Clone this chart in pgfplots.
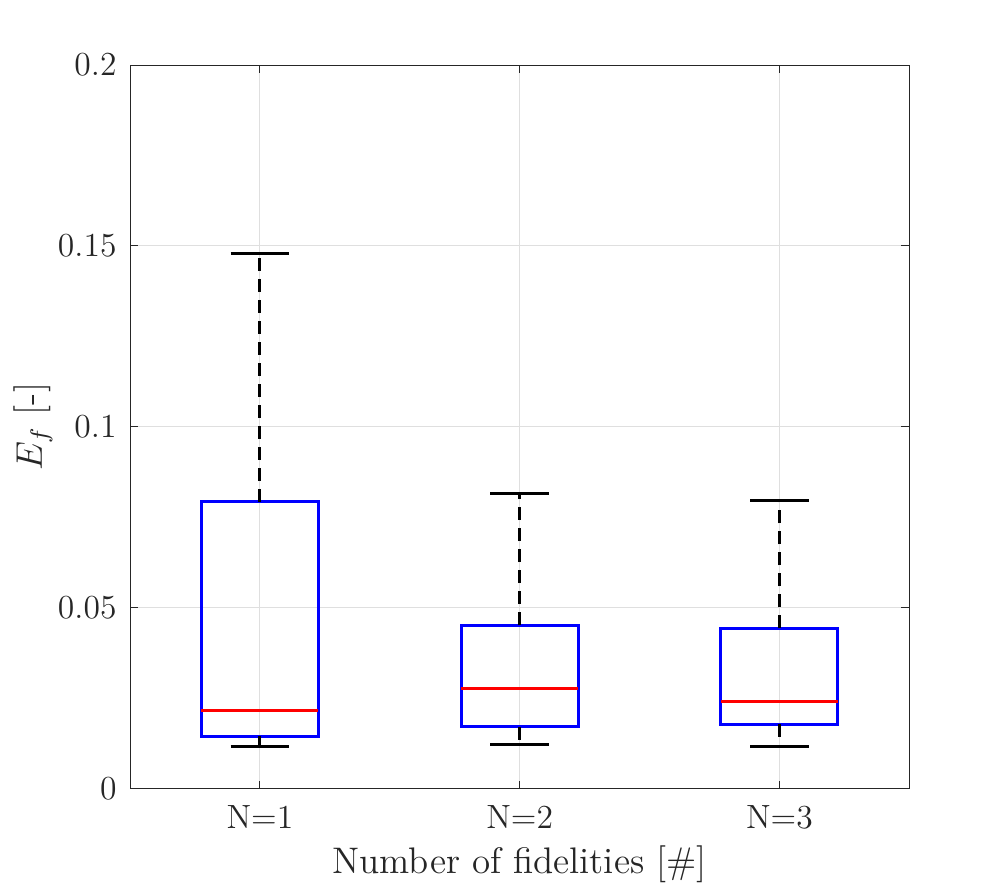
\documentclass[border=0pt]{standalone}
\usepackage{fontspec}
\usepackage{pgfplots}
\pgfplotsset{compat=1.18}
\definecolor{axgray}{HTML}{262626}
\definecolor{gridgray}{HTML}{DFDFDF}
\newcommand\ff{\fontsize{12pt}{14pt}\selectfont}
\begin{document}
\begin{tikzpicture}
\begin{axis}[
  scale only axis,
  width=389.5pt, height=361.75pt,
  xmin=0.5, xmax=3.5, ymin=0, ymax=0.2,
  xtick={1,2,3}, xticklabels={N=1,N=2,N=3},
  ytick={0,0.05,0.1,0.15,0.2},
  yticklabels={0,0.05,0.1,0.15,0.2},
  tick align=inside, tick pos=both,
  major tick length=4pt,
  every tick/.style={axgray, line width=0.5pt},
  axis line style={axgray, line width=0.5pt},
  grid=major,
  major grid style={gridgray, line width=0.5pt},
  xticklabel style={anchor=base, yshift=-19.75pt, inner sep=0pt, font=\ff, text=axgray, scale=1.40},
  yticklabel style={anchor=east, xshift=-6.5pt, inner sep=0pt, font=\ff, text=axgray, scale=1.40},
  xlabel={Number of fidelities [\#]},
  ylabel={$E_f$ [-]},
  xlabel style={at={(axis description cs:0.5,-0.1168)}, anchor=base, inner sep=0pt, font=\ff, text=axgray, scale=1.54},
  ylabel style={at={(axis description cs:-0.113,0.5)}, anchor=base, rotate=0, inner sep=0pt, font=\ff, text=axgray, scale=1.54},
]
% box 1
\addplot[blue, line width=1.5pt] coordinates {(0.775,0.0145) (1.225,0.0145) (1.225,0.0793) (0.775,0.0793)} -- cycle;
\addplot[red, line width=1.5pt] coordinates {(0.775,0.0217) (1.225,0.0217)};
\addplot[black, line width=1.5pt, dash pattern=on 6.5pt off 4pt] coordinates {(1,0.0793) (1,0.1479)};
\addplot[black, line width=1.5pt, dash pattern=on 6.5pt off 4pt] coordinates {(1,0.0145) (1,0.0118)};
\addplot[black, line width=1.5pt] coordinates {(0.8875,0.1479) (1.1125,0.1479)};
\addplot[black, line width=1.5pt] coordinates {(0.8875,0.0118) (1.1125,0.0118)};
% box 2
\addplot[blue, line width=1.5pt] coordinates {(1.775,0.0171) (2.225,0.0171) (2.225,0.0452) (1.775,0.0452)} -- cycle;
\addplot[red, line width=1.5pt] coordinates {(1.775,0.0277) (2.225,0.0277)};
\addplot[black, line width=1.5pt, dash pattern=on 6.5pt off 4pt] coordinates {(2,0.0452) (2,0.0817)};
\addplot[black, line width=1.5pt, dash pattern=on 6.5pt off 4pt] coordinates {(2,0.0171) (2,0.0122)};
\addplot[black, line width=1.5pt] coordinates {(1.8875,0.0817) (2.1125,0.0817)};
\addplot[black, line width=1.5pt] coordinates {(1.8875,0.0122) (2.1125,0.0122)};
% box 3
\addplot[blue, line width=1.5pt] coordinates {(2.775,0.0178) (3.225,0.0178) (3.225,0.0443) (2.775,0.0443)} -- cycle;
\addplot[red, line width=1.5pt] coordinates {(2.775,0.0242) (3.225,0.0242)};
\addplot[black, line width=1.5pt, dash pattern=on 6.5pt off 4pt] coordinates {(3,0.0443) (3,0.0796)};
\addplot[black, line width=1.5pt, dash pattern=on 6.5pt off 4pt] coordinates {(3,0.0178) (3,0.0118)};
\addplot[black, line width=1.5pt] coordinates {(2.8875,0.0796) (3.1125,0.0796)};
\addplot[black, line width=1.5pt] coordinates {(2.8875,0.0118) (3.1125,0.0118)};
\end{axis}
\path (current axis.south west) ++(-65pt,-48.75pt) coordinate (bl);
\path (current axis.north east) ++(47.35pt,32.5pt) coordinate (tr);
\path (bl) rectangle (tr);
\end{tikzpicture}
\end{document}
